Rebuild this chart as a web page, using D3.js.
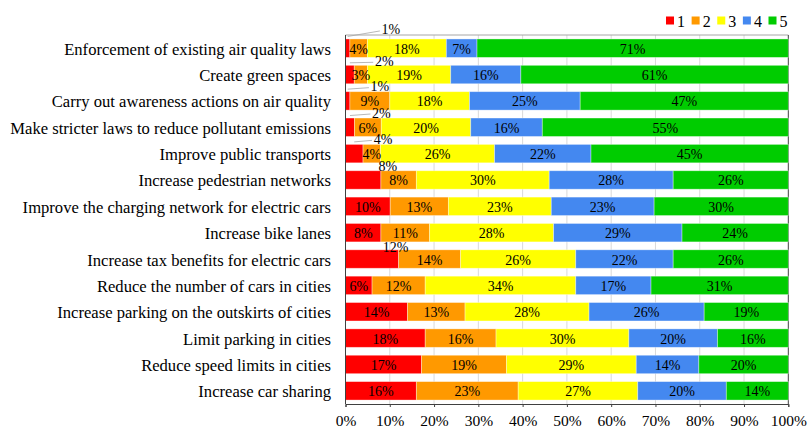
<!DOCTYPE html>
<html>
<head>
<meta charset="utf-8">
<script src="https://cdn.jsdelivr.net/npm/d3@7"></script>
<style>
  html, body { margin: 0; padding: 0; background: #fff; }
  svg { display: block; }
  svg text { font-family: "Liberation Serif", "DejaVu Serif", serif; }
</style>
</head>
<body>
<svg id="chart" width="810" height="430"></svg>
<script>
// Survey measures, top to bottom
const measures = [
  "Enforcement of existing air quality laws",
  "Create green spaces",
  "Carry out awareness actions on air quality",
  "Make stricter laws to reduce pollutant emissions",
  "Improve public transports",
  "Increase pedestrian networks",
  "Improve the charging network for electric cars",
  "Increase bike lanes",
  "Increase tax benefits for electric cars",
  "Reduce the number of cars in cities",
  "Increase parking on the outskirts of cities",
  "Limit parking in cities",
  "Reduce speed limits in cities",
  "Increase car sharing"
];

// Share of answers (%) for each rating, one value per measure
const rating1 = [1, 2, 1, 2, 4, 8, 10, 8, 12, 6, 14, 18, 17, 16];
const rating2 = [4, 3, 9, 6, 4, 8, 13, 11, 14, 12, 13, 16, 19, 23];
const rating3 = [18, 19, 18, 20, 26, 30, 23, 28, 26, 34, 28, 30, 29, 27];
const rating4 = [7, 16, 25, 16, 22, 28, 23, 29, 22, 17, 26, 20, 14, 20];
const rating5 = [71, 61, 47, 55, 45, 26, 30, 24, 26, 31, 19, 16, 20, 14];

const ratingKeys = ["1", "2", "3", "4", "5"];
const axisTicks = [0, 0.1, 0.2, 0.3, 0.4, 0.5, 0.6, 0.7, 0.8, 0.9, 1];

// Rows whose rating-1 label sits above the bar (dx, dy in px from the segment end / bar top)
const outsideLabels = [
  { row: 0, dx: 41, dy: -9, leader: true },
  { row: 1, dx: 30, dy: -4, leader: true },
  { row: 2, dx: 30, dy: -5, leader: true },
  { row: 3, dx: 27, dy: -5, leader: true },
  { row: 4, dx: 20, dy: -5, leader: true },
  { row: 5, dx: 7, dy: -4, leader: false },
  { row: 8, dx: -3, dy: -2, leader: false }
];

const colors = ["#ff0000", "#ff9900", "#ffff00", "#4488f0", "#00cc00"];

const table = measures.map((m, i) => ({
  measure: m,
  "1": rating1[i], "2": rating2[i], "3": rating3[i], "4": rating4[i], "5": rating5[i]
}));

const svg = d3.select("#chart");
const W = 810, H = 430;
const margin = { top: 35, right: 21.7, bottom: 26, left: 345.5 };
const x0 = margin.left, x1 = W - margin.right;
const y0 = margin.top, y1 = H - margin.bottom;

const x = d3.scaleLinear().domain([0, 1]).range([x0, x1]);
const y = d3.scaleBand().domain(measures).range([y0, y1])
  .paddingInner(0.3).paddingOuter(0.15);
const color = d3.scaleOrdinal().domain(ratingKeys).range(colors);

const stacked = d3.stack().keys(ratingKeys).offset(d3.stackOffsetExpand)(table);

// Vertical gridlines
svg.append("g").selectAll("line").data(axisTicks.slice(1, -1)).join("line")
  .attr("x1", d => x(d)).attr("x2", d => x(d))
  .attr("y1", y0).attr("y2", y1)
  .attr("stroke", "#d9d9d9").attr("stroke-width", 1);

// Top frame line
svg.append("line").attr("x1", x0).attr("x2", x1).attr("y1", y0).attr("y2", y0)
  .attr("stroke", "#a6a6a6").attr("stroke-width", 1);
// Right frame line
svg.append("line").attr("x1", x1).attr("x2", x1).attr("y1", y0).attr("y2", y1)
  .attr("stroke", "#404040").attr("stroke-width", 1);

// Bars
const layers = svg.append("g").selectAll("g").data(stacked).join("g")
  .attr("fill", d => color(d.key));

layers.selectAll("rect").data(d => d.map(v => ({ v, key: d.key }))).join("rect")
  .attr("x", d => x(d.v[0]))
  .attr("width", d => x(d.v[1]) - x(d.v[0]))
  .attr("y", d => y(d.v.data.measure))
  .attr("height", y.bandwidth())
  .attr("stroke", "rgba(255,255,255,0.45)")
  .attr("stroke-width", 0.8);

// Value labels
const outsideMap = new Map(outsideLabels.map(o => [o.row, o]));
const labelG = svg.append("g")
  .attr("font-size", 14).attr("fill", "#000").attr("text-anchor", "middle");

stacked.forEach((layer, li) => {
  layer.forEach((v, ri) => {
    const val = v.data[layer.key];
    const top = y(v.data.measure);
    const o = li === 0 ? outsideMap.get(ri) : null;
    if (o) {
      const lx = x(v[1]) + o.dx;
      const ly = top + o.dy;
      if (o.leader) {
        svg.append("line")
          .attr("x1", (x(v[0]) + x(v[1])) / 2).attr("y1", top - 2.5)
          .attr("x2", lx - 11).attr("y2", ly + 1)
          .attr("stroke", "#a6a6a6").attr("stroke-width", 0.8);
      }
      labelG.append("text")
        .attr("x", lx).attr("y", ly)
        .attr("dominant-baseline", "central")
        .text(val + "%");
    } else {
      labelG.append("text")
        .attr("x", (x(v[0]) + x(v[1])) / 2)
        .attr("y", top + y.bandwidth() / 2 + 1)
        .attr("dominant-baseline", "central")
        .text(val + "%");
    }
  });
});

// Category labels
svg.append("g").selectAll("text").data(measures).join("text")
  .attr("x", 331)
  .attr("y", d => y(d) + y.bandwidth() / 2 + 1)
  .attr("text-anchor", "end")
  .attr("dominant-baseline", "central")
  .attr("font-size", 16.6)
  .attr("fill", "#000")
  .text(d => d);

// Left axis line
svg.append("line").attr("x1", x0).attr("x2", x0).attr("y1", y0).attr("y2", y1)
  .attr("stroke", "#404040").attr("stroke-width", 1);

// Bottom axis
const xAxis = d3.axisBottom(x).tickValues(axisTicks)
  .tickFormat(d3.format(".0%")).tickSize(3).tickPadding(8);
const ax = svg.append("g").attr("transform", `translate(0,${y1})`).call(xAxis);
ax.attr("font-family", null);
ax.select(".domain").attr("stroke", "#404040");
ax.selectAll(".tick line").attr("stroke", "#404040");
ax.selectAll(".tick text").attr("font-size", 15.5).attr("fill", "#000");

// Legend
const legend = svg.append("g").attr("font-size", 16);
const legendX = d3.scalePoint().domain(ratingKeys).range([666, 768.5]);
const li = legend.selectAll("g").data(ratingKeys).join("g")
  .attr("transform", k => `translate(${legendX(k)},20.5)`);
li.append("rect").attr("x", 0).attr("y", -4).attr("width", 8).attr("height", 8)
  .attr("fill", k => color(k));
li.append("text").attr("x", 11).attr("y", 0.5)
  .attr("dominant-baseline", "central").attr("fill", "#000").text(k => k);
</script>
</body>
</html>
